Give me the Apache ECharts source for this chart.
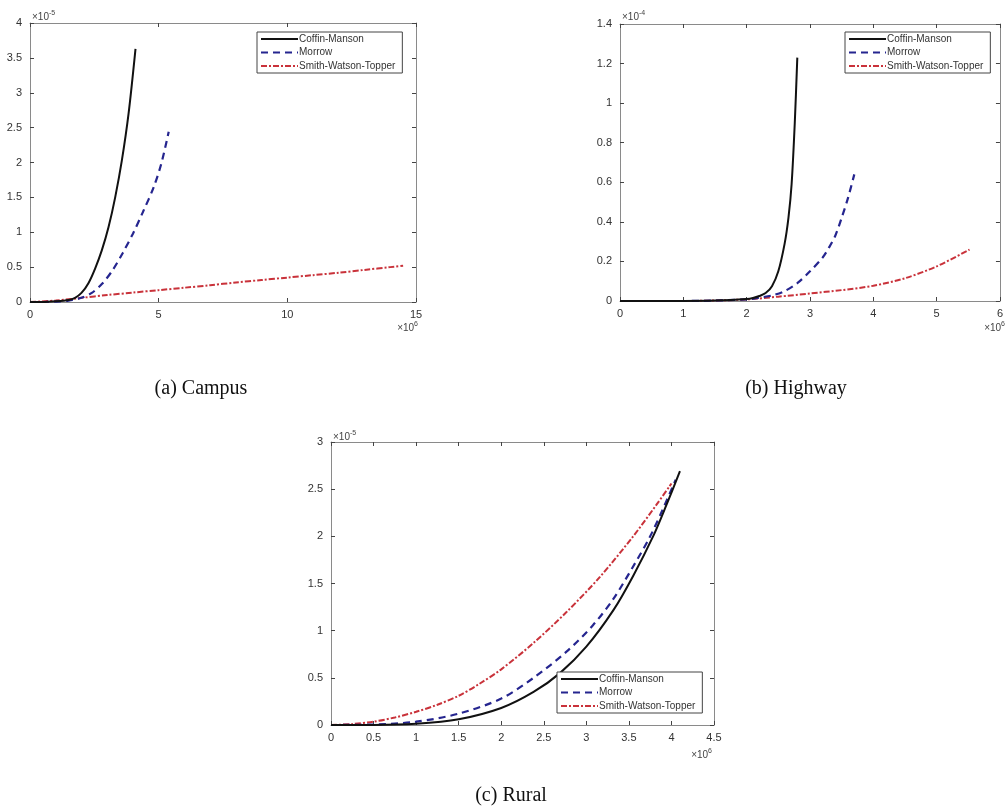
<!DOCTYPE html>
<html>
<head>
<meta charset="utf-8">
<title>Fatigue damage</title>
<script src="https://cdn.jsdelivr.net/npm/echarts@6/dist/echarts.min.js"></script>
<style>
  html, body { margin: 0; padding: 0; background: #fff; }
  #main { width: 1006px; height: 807px; }
</style>
</head>
<body>
<div id="main"></div>
<script>
// x in units of 1e6, y in units of 1e-5 (campus, rural) or 1e-4 (highway)
var seriesNames = ['Coffin-Manson', 'Morrow', 'Smith-Watson-Topper'];

// (a) Campus
var campusCoffinX = [0, 0.5, 1, 1.5, 1.75, 2.0, 2.27, 2.53, 2.79, 3.05, 3.31, 3.57, 3.83, 4.1];
var campusCoffinY = [0, 0, 0.01, 0.03, 0.06, 0.13, 0.27, 0.48, 0.74, 1.07, 1.5, 2.03, 2.7, 3.63];
var campusMorrowX = [0, 0.5, 1, 1.5, 2, 2.4, 2.8, 3.2, 3.6, 4.0, 4.4, 4.8, 5.1, 5.39];
var campusMorrowY = [0, 0, 0.005, 0.02, 0.06, 0.13, 0.26, 0.45, 0.7, 0.98, 1.3, 1.64, 1.98, 2.44];
var campusSwtX = [0, 1, 2, 3, 4, 5, 6, 7, 8, 9, 10, 11, 12, 13, 14, 14.5];
var campusSwtY = [0, 0.02, 0.06, 0.1, 0.135, 0.17, 0.205, 0.24, 0.28, 0.315, 0.35, 0.385, 0.42, 0.46, 0.5, 0.52];

// (b) Highway
var highwayCoffinX = [0, 0.5, 1, 1.5, 2, 2.1, 2.2, 2.3, 2.4, 2.5, 2.6, 2.66, 2.71, 2.76, 2.8];
var highwayCoffinY = [0, 0, 0, 0.002, 0.01, 0.015, 0.025, 0.04, 0.075, 0.15, 0.29, 0.42, 0.59, 0.9, 1.23];
var highwayMorrowX = [0, 1, 2, 2.2, 2.4, 2.6, 2.8, 3.0, 3.2, 3.3, 3.4, 3.5, 3.6, 3.7];
var highwayMorrowY = [0, 0, 0.008, 0.017, 0.028, 0.05, 0.09, 0.15, 0.22, 0.27, 0.33, 0.42, 0.52, 0.64];
var highwaySwtX = [0, 1, 2, 2.5, 3, 3.5, 4, 4.5, 5, 5.52];
var highwaySwtY = [0, 0, 0.008, 0.022, 0.038, 0.055, 0.077, 0.115, 0.175, 0.26];

// (c) Rural
var ruralCoffinX = [0, 0.5, 1, 1.5, 2, 2.38, 2.69, 3.0, 3.32, 3.55, 3.79, 3.94, 4.1];
var ruralCoffinY = [0, 0, 0.012, 0.06, 0.18, 0.35, 0.55, 0.83, 1.22, 1.58, 2.01, 2.33, 2.69];
var ruralMorrowX = [0, 0.5, 1, 1.5, 2, 2.38, 2.77, 3.08, 3.32, 3.55, 3.75, 3.9, 4.05];
var ruralMorrowY = [0, 0.005, 0.035, 0.12, 0.28, 0.5, 0.78, 1.06, 1.34, 1.68, 2.0, 2.29, 2.6];
var ruralSwtX = [0, 0.25, 0.5, 0.75, 1, 1.25, 1.5, 1.75, 2, 2.38, 2.77, 3.16, 3.55, 3.82, 4.0];
var ruralSwtY = [0, 0.01, 0.035, 0.08, 0.14, 0.215, 0.31, 0.44, 0.59, 0.87, 1.2, 1.57, 2.0, 2.33, 2.56];

// axis ranges: [xMax, xInterval, yMax, yInterval]
var campusRange = [15, 5, 4, 0.5];
var highwayRange = [6, 1, 1.4, 0.2];
var ruralRange = [4.5, 0.5, 3, 0.5];

var captions = ['(a) Campus', '(b) Highway', '(c) Rural'];

function zip(xs, ys) {
  return xs.map(function (x, i) { return [x, ys[i]]; });
}

var chart = echarts.init(document.getElementById('main'));

var grids = [
  {left: 30, top: 23, width: 386, height: 279},
  {left: 620, top: 24, width: 383, height: 277},
  {left: 331, top: 442, width: 383, height: 283}
];
var ranges = [campusRange, highwayRange, ruralRange];

var axisColor = '#8a8a8a';
var labelStyle = {color: '#333', fontSize: 11, fontFamily: 'Liberation Sans'};

var xAxes = [], yAxes = [];
// bottom / left axes with labels
ranges.forEach(function (r, i) {
  xAxes.push({
    type: 'value', gridIndex: i, position: 'bottom', min: 0, max: r[0], interval: r[1],
    axisLine: {show: true, lineStyle: {color: axisColor, width: 1}},
    axisTick: {show: true, inside: true, length: 4, lineStyle: {color: '#444'}},
    axisLabel: Object.assign({margin: 7, showMaxLabel: true}, labelStyle),
    splitLine: {show: false}
  });
  yAxes.push({
    type: 'value', gridIndex: i, position: 'left', min: 0, max: r[2], interval: r[3],
    axisLine: {show: true, lineStyle: {color: axisColor, width: 1}},
    axisTick: {show: true, inside: true, length: 4, lineStyle: {color: '#444'}},
    axisLabel: Object.assign({margin: 8}, labelStyle),
    splitLine: {show: false}
  });
});
// top / right axes: box with ticks, no labels
ranges.forEach(function (r, i) {
  xAxes.push({
    type: 'value', gridIndex: i, position: 'top', min: 0, max: r[0], interval: r[1],
    axisLine: {show: true, onZero: false, lineStyle: {color: axisColor, width: 1}},
    axisTick: {show: true, inside: true, length: 4, lineStyle: {color: '#444'}},
    axisLabel: {show: false}, splitLine: {show: false}
  });
  yAxes.push({
    type: 'value', gridIndex: i, position: 'right', min: 0, max: r[2], interval: r[3],
    axisLine: {show: true, onZero: false, lineStyle: {color: axisColor, width: 1}},
    axisTick: {show: true, inside: true, length: 4, lineStyle: {color: '#444'}},
    axisLabel: {show: false}, splitLine: {show: false}
  });
});

var styles = [
  {color: '#111111', width: 2, type: 'solid'},
  {color: '#25258f', width: 2.2, type: [7, 5]},
  {color: '#c9323a', width: 2, type: [6, 2, 2, 2]}
];

var dataSets = [
  [zip(campusCoffinX, campusCoffinY), zip(campusMorrowX, campusMorrowY), zip(campusSwtX, campusSwtY)],
  [zip(highwayCoffinX, highwayCoffinY), zip(highwayMorrowX, highwayMorrowY), zip(highwaySwtX, highwaySwtY)],
  [zip(ruralCoffinX, ruralCoffinY), zip(ruralMorrowX, ruralMorrowY), zip(ruralSwtX, ruralSwtY)]
];

var series = [];
dataSets.forEach(function (set, g) {
  set.forEach(function (d, k) {
    series.push({
      name: seriesNames[k],
      type: 'line',
      xAxisIndex: g,
      yAxisIndex: g,
      data: d,
      symbol: 'none',
      showSymbol: false,
      smooth: 0.3,
      lineStyle: styles[k],
      itemStyle: {color: styles[k].color},
      z: 3 - k
    });
  });
});

var legendPos = [
  {left: 257, top: 32},
  {left: 845, top: 32},
  {left: 557, top: 672}
];
var legends = legendPos.map(function (p) {
  return {
    orient: 'vertical', left: p.left, top: p.top,
    data: seriesNames,
    backgroundColor: '#fff',
    borderColor: '#444', borderWidth: 1,
    padding: [2, 7, 2, 3],
    itemWidth: 37, itemHeight: 10, itemGap: 3.5,
    selectedMode: false,
    itemStyle: {opacity: 0},
    textStyle: {fontSize: 10, color: '#333', fontFamily: 'Liberation Sans', padding: [0, 0, 0, -4]}
  };
});

function expText(x, y, exp, align) {
  return {
    type: 'text', x: x, y: y, silent: true,
    style: {
      text: '{a|×10}{b|' + exp + '}',
      align: align, verticalAlign: 'middle',
      rich: {
        a: {fontSize: 10, fill: '#444', fontFamily: 'Liberation Sans'},
        b: {fontSize: 7, fill: '#444', fontFamily: 'Liberation Sans', padding: [0, 0, 7, 0]}
      }
    }
  };
}

var graphics = [
  expText(32, 17, '-5', 'left'),
  expText(622, 17, '-4', 'left'),
  expText(333, 437, '-5', 'left'),
  expText(418, 328, '6', 'right'),
  expText(1005, 328, '6', 'right'),
  expText(712, 755, '6', 'right')
];
var captionPos = [[201, 389], [796, 389], [511, 796]];
captions.forEach(function (c, i) {
  graphics.push({
    type: 'text', x: captionPos[i][0], y: captionPos[i][1], silent: true,
    style: {text: c, align: 'center', verticalAlign: 'middle', fontSize: 20,
      fontFamily: 'Liberation Serif', fill: '#111'}
  });
});

var option = {
  backgroundColor: '#fff',
  animation: false,
  grid: grids.map(function (g) { return Object.assign({containLabel: false}, g); }),
  xAxis: xAxes,
  yAxis: yAxes,
  legend: legends,
  series: series,
  graphic: graphics
};
chart.setOption(option);
window.addEventListener('resize', function () { chart.resize(); });
</script>
</body>
</html>
